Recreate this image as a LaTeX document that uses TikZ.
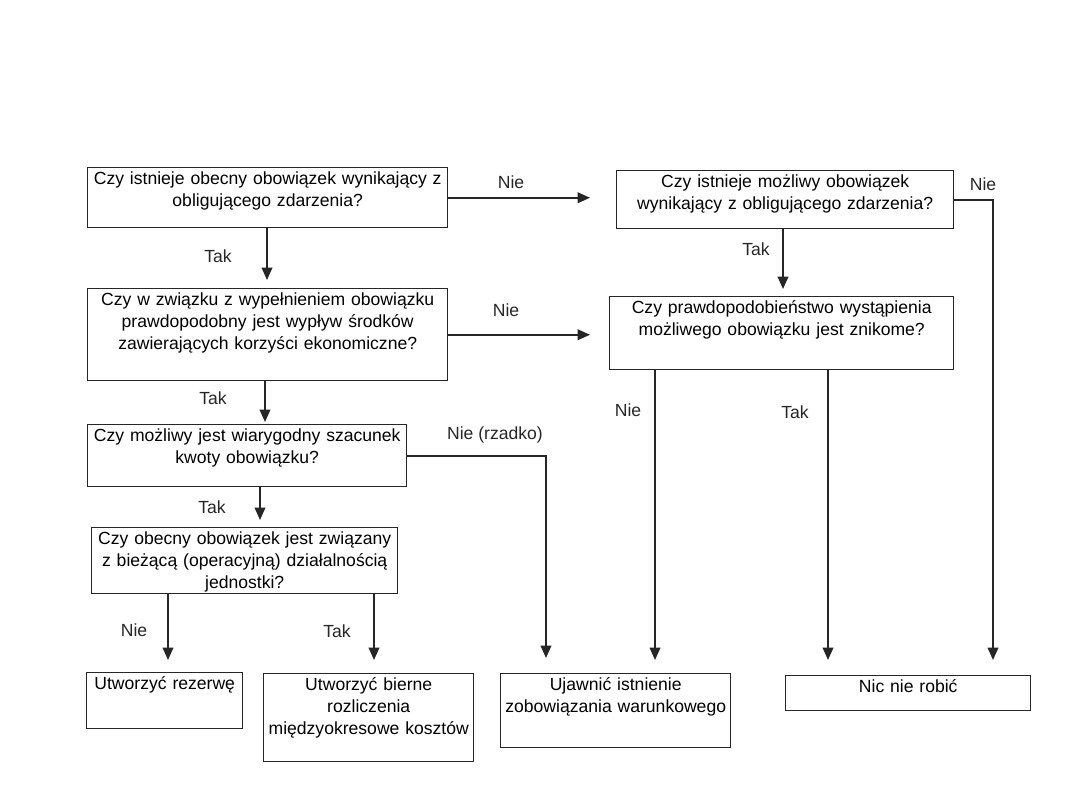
\documentclass[tikz,border=0pt]{standalone}
\usepackage{fontspec}
\setmainfont{Liberation Sans}
\usetikzlibrary{arrows.meta}

\begin{document}
\begin{tikzpicture}[x=0.2mm, y=-0.2mm, font=\fontsize{10}{12.5}\selectfont,
  box/.style={draw=black!85, line width=0.8pt, align=center, anchor=north west,
    inner xsep=2pt, inner ysep=2pt, text height=7.7pt, text depth=#1},
  arr/.style={line width=1pt, black!85, -{Triangle[length=7pt, width=6pt]}},
  lab/.style={text=black!85}]
  \useasboundingbox (0,0) rectangle (1080,810);

  % pytania
  \node[box=7.9mm, text width=70.6mm] (obecny) at (87,167)
    {Czy istnieje obecny obowiązek wynikający z\\obligującego zdarzenia?};
  \node[box=7.5mm, text width=66.0mm] (mozliwy) at (616,170)
    {Czy istnieje możliwy obowiązek\\wynikający z obligującego zdarzenia?};
  \node[box=14.3mm, text width=70.6mm] (wyplyw) at (87,288)
    {Czy w związku z wypełnieniem obowiązku\\prawdopodobny jest wypływ środków\\zawierających korzyści ekonomiczne?};
  \node[box=10.5mm, text width=67.4mm] (znikome) at (609,296)
    {Czy prawdopodobieństwo wystąpienia\\możliwego obowiązku jest znikome?};
  \node[box=8.3mm, text width=62.4mm] (szacunek) at (87,424)
    {Czy możliwy jest wiarygodny szacunek\\kwoty obowiązku?};
  \node[box=9.1mm, text width=59.8mm] (dzialalnosc) at (91,527)
    {Czy obecny obowiązek jest związany\\z bieżącą (operacyjną) działalnością\\jednostki?};

  % decyzje
  \node[box=7.1mm, text width=29.8mm] (rezerwa) at (86,672) {Utworzyć rezerwę};
  \node[box=13.5mm, text width=40.6mm] (bierne) at (263,673)
    {Utworzyć bierne\\rozliczenia\\międzyokresowe kosztów};
  \node[box=10.7mm, text width=44.6mm] (ujawnic) at (500,673)
    {Ujawnić istnienie\\zobowiązania warunkowego};
  \node[box=2.9mm, text width=47.6mm] (nic) at (785,675) {Nic nie robić};

  % strzalki
  \draw[arr, shorten >=1.6mm] (obecny.south -| 267,0) -- (wyplyw.north -| 267,0);
  \draw[arr, shorten >=5.2mm] (obecny.east) -- (mozliwy.west |- obecny.east);
  \draw[arr, shorten >=3.8mm] (wyplyw.east) -- (znikome.west |- wyplyw.east);
  \draw[arr, shorten >=1.4mm] (mozliwy.south -| 783,0) -- (znikome.north -| 783,0);
  \draw[arr, shorten >=3mm] (mozliwy.east) -| (nic.north -| 993,0);
  \draw[arr, shorten >=2.6mm] (znikome.south -| 655,0) -- (ujawnic.north -| 655,0);
  \draw[arr, shorten >=3mm] (znikome.south -| 828,0) -- (nic.north -| 828,0);
  \draw[arr, shorten >=0.4mm] (wyplyw.south -| 265,0) -- (szacunek.north -| 265,0);
  \draw[arr, shorten >=3mm] (szacunek.east) -| (ujawnic.north -| 546,0);
  \draw[arr, shorten >=1.4mm] (szacunek.south -| 260,0) -- (dzialalnosc.north -| 260,0);
  \draw[arr, shorten >=2.4mm] (dzialalnosc.south -| 168,0) -- (rezerwa.north -| 168,0);
  \draw[arr, shorten >=2.6mm] (dzialalnosc.south -| 374,0) -- (bierne.north -| 374,0);

  % etykiety
  \node[lab] (nie1) at (511,182) {Nie};
  \node[lab] (tak1) at (218,256) {Tak};
  \node[lab] (nie2) at (506,310) {Nie};
  \node[lab] (tak2) at (756,249) {Tak};
  \node[lab] (nie3) at (983,184) {Nie};
  \node[lab] (tak3) at (213,398) {Tak};
  \node[lab] (nie4) at (628,410) {Nie};
  \node[lab] (tak4) at (795,412) {Tak};
  \node[lab] (nie5) at (495,435) {Nie (rzadko)};
  \node[lab] (tak5) at (212,507) {Tak};
  \node[lab] (nie6) at (134,630) {Nie};
  \node[lab] (tak6) at (337,631) {Tak};
\end{tikzpicture}
\end{document}
